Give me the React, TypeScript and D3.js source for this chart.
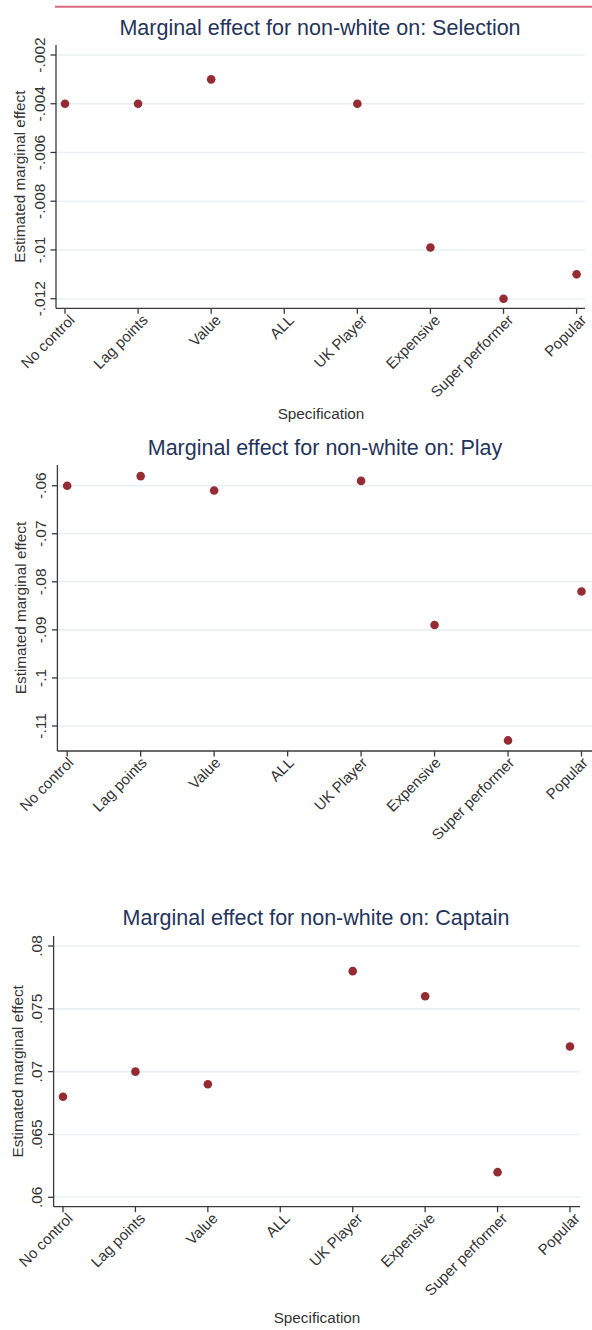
import React from "react";
import * as d3 from "d3";

const categories = ["No control", "Lag points", "Value", "ALL", "UK Player", "Expensive", "Super performer", "Popular"];

const selectionValues: (number | null)[] = [-0.004, -0.004, -0.003, null, -0.004, -0.0099, -0.012, -0.011];
const playValues: (number | null)[] = [-0.06, -0.058, -0.061, null, -0.059, -0.089, -0.113, -0.082];
const captainValues: (number | null)[] = [0.068, 0.07, 0.069, null, 0.078, 0.076, 0.062, 0.072];

const selectionTicks = [-0.002, -0.004, -0.006, -0.008, -0.01, -0.012];
const playTicks = [-0.06, -0.07, -0.08, -0.09, -0.1, -0.11];
const captainTicks = [0.08, 0.075, 0.07, 0.065, 0.06];

const fmt = (v: number) => {
  let s = String(+v.toFixed(4));
  s = s.replace("0.", ".");
  return s;
};

const FONT = "'Liberation Sans', Arial, sans-serif";
const TITLE_COLOR = "#25345a";
const AXIS_COLOR = "#3a3a3a";
const GRID_COLOR = "#e8f0f3";
const DOT_COLOR = "#952c34";

type PanelCfg = {
  title: string;
  values: (number | null)[];
  ticks: number[];
  axisX: number;
  top: number;
  bottom: number;
  right: number;
  tickDomain: [number, number];
  tickRange: [number, number];
  xRange: [number, number];
  titleX: number;
  titleY: number;
  labelDx: number;
  specY?: number;
  specX?: number;
};

const panels: PanelCfg[] = [
  {
    title: "Marginal effect for non-white on: Selection",
    values: selectionValues,
    ticks: selectionTicks,
    axisX: 56,
    top: 45,
    bottom: 308.3,
    right: 585,
    tickDomain: [-0.002, -0.012],
    tickRange: [55, 298.7],
    xRange: [65, 576.6],
    titleX: 320,
    titleY: 35,
    labelDx: 7,
    specX: 321,
    specY: 419,
  },
  {
    title: "Marginal effect for non-white on: Play",
    values: playValues,
    ticks: playTicks,
    axisX: 57.4,
    top: 465,
    bottom: 751,
    right: 600,
    tickDomain: [-0.06, -0.11],
    tickRange: [485.7, 726],
    xRange: [67.2, 581.5],
    titleX: 325,
    titleY: 455,
    labelDx: 3.5,
  },
  {
    title: "Marginal effect for non-white on: Captain",
    values: captainValues,
    ticks: captainTicks,
    axisX: 53.6,
    top: 936,
    bottom: 1206.7,
    right: 580,
    tickDomain: [0.08, 0.06],
    tickRange: [946, 1197.3],
    xRange: [63, 570],
    titleX: 316,
    titleY: 925,
    labelDx: 7,
    specX: 317,
    specY: 1323,
  },
];

function Panel({ cfg }: { cfg: PanelCfg }) {
  const y = d3.scaleLinear().domain(cfg.tickDomain).range(cfg.tickRange);
  const x = d3.scalePoint<string>().domain(categories).range(cfg.xRange);
  const midY = (cfg.top + cfg.bottom) / 2;
  return (
    <g>
      <text x={cfg.titleX} y={cfg.titleY} textAnchor="middle" fontSize={21.5} fill={TITLE_COLOR} fontFamily={FONT}>
        {cfg.title}
      </text>
      {cfg.ticks.map((t) => (
        <line key={"g" + t} x1={cfg.axisX} x2={cfg.right} y1={y(t)} y2={y(t)} stroke={GRID_COLOR} strokeWidth={1.6} />
      ))}
      <line x1={cfg.axisX} x2={cfg.axisX} y1={cfg.top} y2={cfg.bottom} stroke={AXIS_COLOR} strokeWidth={1.3} />
      <line x1={cfg.axisX} x2={cfg.right} y1={cfg.bottom} y2={cfg.bottom} stroke={AXIS_COLOR} strokeWidth={1.3} />
      {cfg.ticks.map((t) => (
        <g key={"t" + t}>
          <line x1={cfg.axisX - 5.5} x2={cfg.axisX} y1={y(t)} y2={y(t)} stroke={AXIS_COLOR} strokeWidth={1.3} />
          <text
            transform={`translate(${cfg.axisX - 11.5},${y(t)}) rotate(-90)`}
            textAnchor="middle"
            fontSize={15.5}
            fill="#333"
            fontFamily={FONT}
          >
            {fmt(t)}
          </text>
        </g>
      ))}
      <text
        transform={`translate(${cfg.axisX - 31},${midY}) rotate(-90)`}
        textAnchor="middle"
        fontSize={15.3}
        fill="#333"
        fontFamily={FONT}
      >
        Estimated marginal effect
      </text>
      {categories.map((c) => (
        <g key={"x" + c}>
          <line x1={x(c)} x2={x(c)} y1={cfg.bottom} y2={cfg.bottom + 5.5} stroke={AXIS_COLOR} strokeWidth={1.3} />
          <text
            transform={`translate(${(x(c) as number) + cfg.labelDx},${cfg.bottom + 9}) rotate(-45)`}
            textAnchor="end"
            dy="0.35em"
            fontSize={15}
            fill="#333"
            fontFamily={FONT}
          >
            {c}
          </text>
        </g>
      ))}
      {cfg.values.map((v, i) =>
        v === null ? null : (
          <circle key={"d" + i} cx={x(categories[i])} cy={y(v)} r={4.3} fill={DOT_COLOR} />
        )
      )}
      {cfg.specY !== undefined && (
        <text x={cfg.specX} y={cfg.specY} textAnchor="middle" fontSize={15.3} fill="#333" fontFamily={FONT}>
          Specification
        </text>
      )}
    </g>
  );
}

export default function App() {
  return (
    <svg width={592} height={1330} style={{ position: "absolute", left: 0, top: 0, background: "#fff" }}>
      <rect x={0} y={0} width={592} height={1330} fill="#fff" />
      <line x1={55} x2={592} y1={6.7} y2={6.7} stroke="#d86a80" strokeWidth={2} />
      {panels.map((p, i) => (
        <Panel key={i} cfg={p} />
      ))}
    </svg>
  );
}
